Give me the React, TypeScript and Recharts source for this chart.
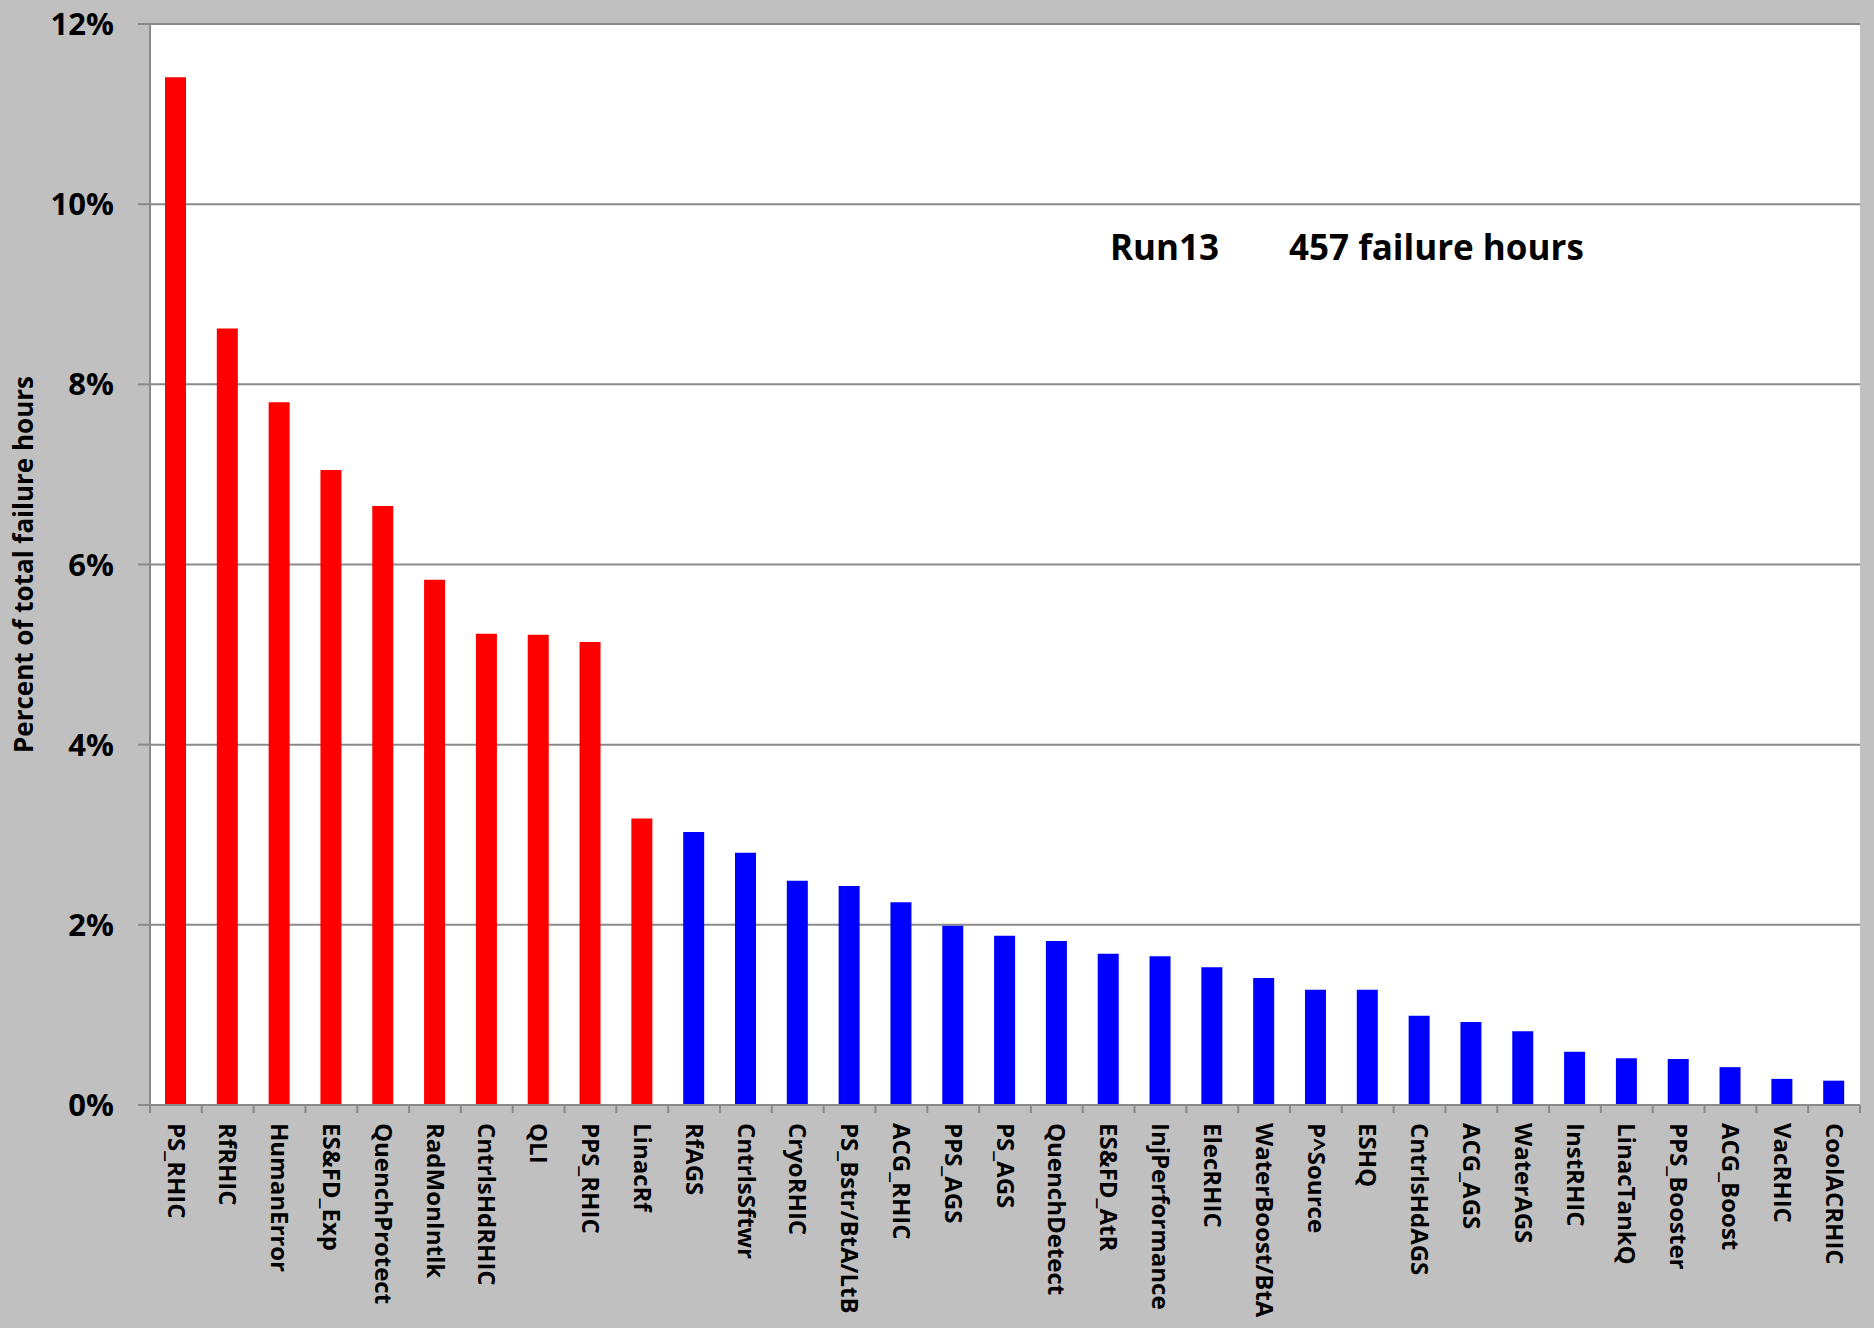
import { BarChart, Bar, XAxis, YAxis, CartesianGrid, Cell } from "recharts";

const categories = [
  "PS_RHIC", "RfRHIC", "HumanError", "ES&FD_Exp", "QuenchProtect", "RadMonIntlk",
  "CntrlsHdRHIC", "QLI", "PPS_RHIC", "LinacRf", "RfAGS", "CntrlsSftwr", "CryoRHIC",
  "PS_Bstr/BtA/LtB", "ACG_RHIC", "PPS_AGS", "PS_AGS", "QuenchDetect", "ES&FD_AtR",
  "InjPerformance", "ElecRHIC", "WaterBoost/BtA", "P^Source", "ESHQ", "CntrlsHdAGS",
  "ACG_AGS", "WaterAGS", "InstRHIC", "LinacTankQ", "PPS_Booster", "ACG_Boost",
  "VacRHIC", "CoolACRHIC",
];

// percent of total failure hours
const percents = [
  11.41, 8.62, 7.80, 7.05, 6.65, 5.83, 5.23, 5.22, 5.14, 3.18, 3.03, 2.80, 2.49,
  2.43, 2.25, 1.99, 1.88, 1.82, 1.68, 1.65, 1.53, 1.41, 1.28, 1.28, 0.99, 0.92,
  0.82, 0.59, 0.52, 0.51, 0.42, 0.29, 0.27,
];

const groups = [
  "top", "top", "top", "top", "top", "top", "top", "top", "top", "top",
  "rest", "rest", "rest", "rest", "rest", "rest", "rest", "rest", "rest", "rest",
  "rest", "rest", "rest", "rest", "rest", "rest", "rest", "rest", "rest", "rest",
  "rest", "rest", "rest",
];

const yTicks = [0, 2, 4, 6, 8, 10, 12];

const groupColors: Record<string, string> = { top: "#FF0000", rest: "#0000FF" };

const data = categories.map((name, i) => ({ name, pct: percents[i], group: groups[i] }));

const GRAY = "#8a8a8a";
const FONT = "'Open Sans', sans-serif";

function CategoryTick(props: any) {
  const { x, y, payload, index } = props;
  const half = payload && payload.offset ? payload.offset : 1710 / categories.length / 2;
  const ty = y + 18;
  return (
    <g>
      <line x1={x - half} x2={x - half} y1={y} y2={y + 8} stroke={GRAY} strokeWidth={2} />
      {index === categories.length - 1 && (
        <line x1={x + half} x2={x + half} y1={y} y2={y + 8} stroke={GRAY} strokeWidth={2} />
      )}
      <text
        x={x}
        y={ty}
        dy="0.35em"
        transform={`rotate(90 ${x} ${ty})`}
        textAnchor="start"
        fontFamily={FONT}
        fontWeight={700}
        fontSize={24}
        fill="#000"
      >
        {payload.value}
      </text>
    </g>
  );
}

function YTitle(props: any) {
  const vb = props.viewBox || { x: 0, y: 24, width: 150, height: 1081 };
  const cx = vb.x + 24;
  const cy = vb.y + vb.height / 2;
  return (
    <text
      x={cx}
      y={cy}
      dy="0.35em"
      transform={`rotate(-90 ${cx} ${cy})`}
      textAnchor="middle"
      fontFamily={FONT}
      fontWeight={700}
      fontSize={26}
      fill="#000"
    >
      Percent of total failure hours
    </text>
  );
}

export default function App() {
  return (
    <div
      style={{
        position: "absolute",
        left: 0,
        top: 0,
        width: 1874,
        height: 1328,
        background: "#C0C0C0",
        fontFamily: FONT,
      }}
    >
      <BarChart
        width={1874}
        height={1328}
        data={data}
        margin={{ top: 24, right: 14, bottom: 0, left: 0 }}
        barSize={21}
      >
        <CartesianGrid vertical={false} stroke={GRAY} strokeWidth={2} fill="#FFFFFF" fillOpacity={1} />
        <XAxis
          dataKey="name"
          interval={0}
          height={223}
          tickSize={0}
          tickMargin={0}
          tickLine={false}
          axisLine={{ stroke: GRAY, strokeWidth: 2 }}
          tick={<CategoryTick />}
        />
        <YAxis
          width={150}
          domain={[0, 12]}
          ticks={yTicks}
          interval={0}
          tickFormatter={(v) => `${v}%`}
          tickSize={12}
          tickMargin={24}
          tickLine={{ stroke: GRAY, strokeWidth: 2 }}
          axisLine={{ stroke: GRAY, strokeWidth: 2 }}
          tick={{ fill: "#000", fontSize: 31, fontWeight: 700, fontFamily: FONT }}
          label={<YTitle />}
        />
        <Bar dataKey="pct" isAnimationActive={false}>
          {data.map((d) => (
            <Cell key={d.name} fill={groupColors[d.group]} />
          ))}
        </Bar>
      </BarChart>
      <svg
        width={1874}
        height={1328}
        style={{ position: "absolute", left: 0, top: 0, pointerEvents: "none" }}
      >
        <text x={1110} y={260} fontFamily={FONT} fontWeight={700} fontSize={35} fill="#000">
          Run13
        </text>
        <text x={1289} y={260} fontFamily={FONT} fontWeight={700} fontSize={35} fill="#000">
          457 failure hours
        </text>
      </svg>
    </div>
  );
}
